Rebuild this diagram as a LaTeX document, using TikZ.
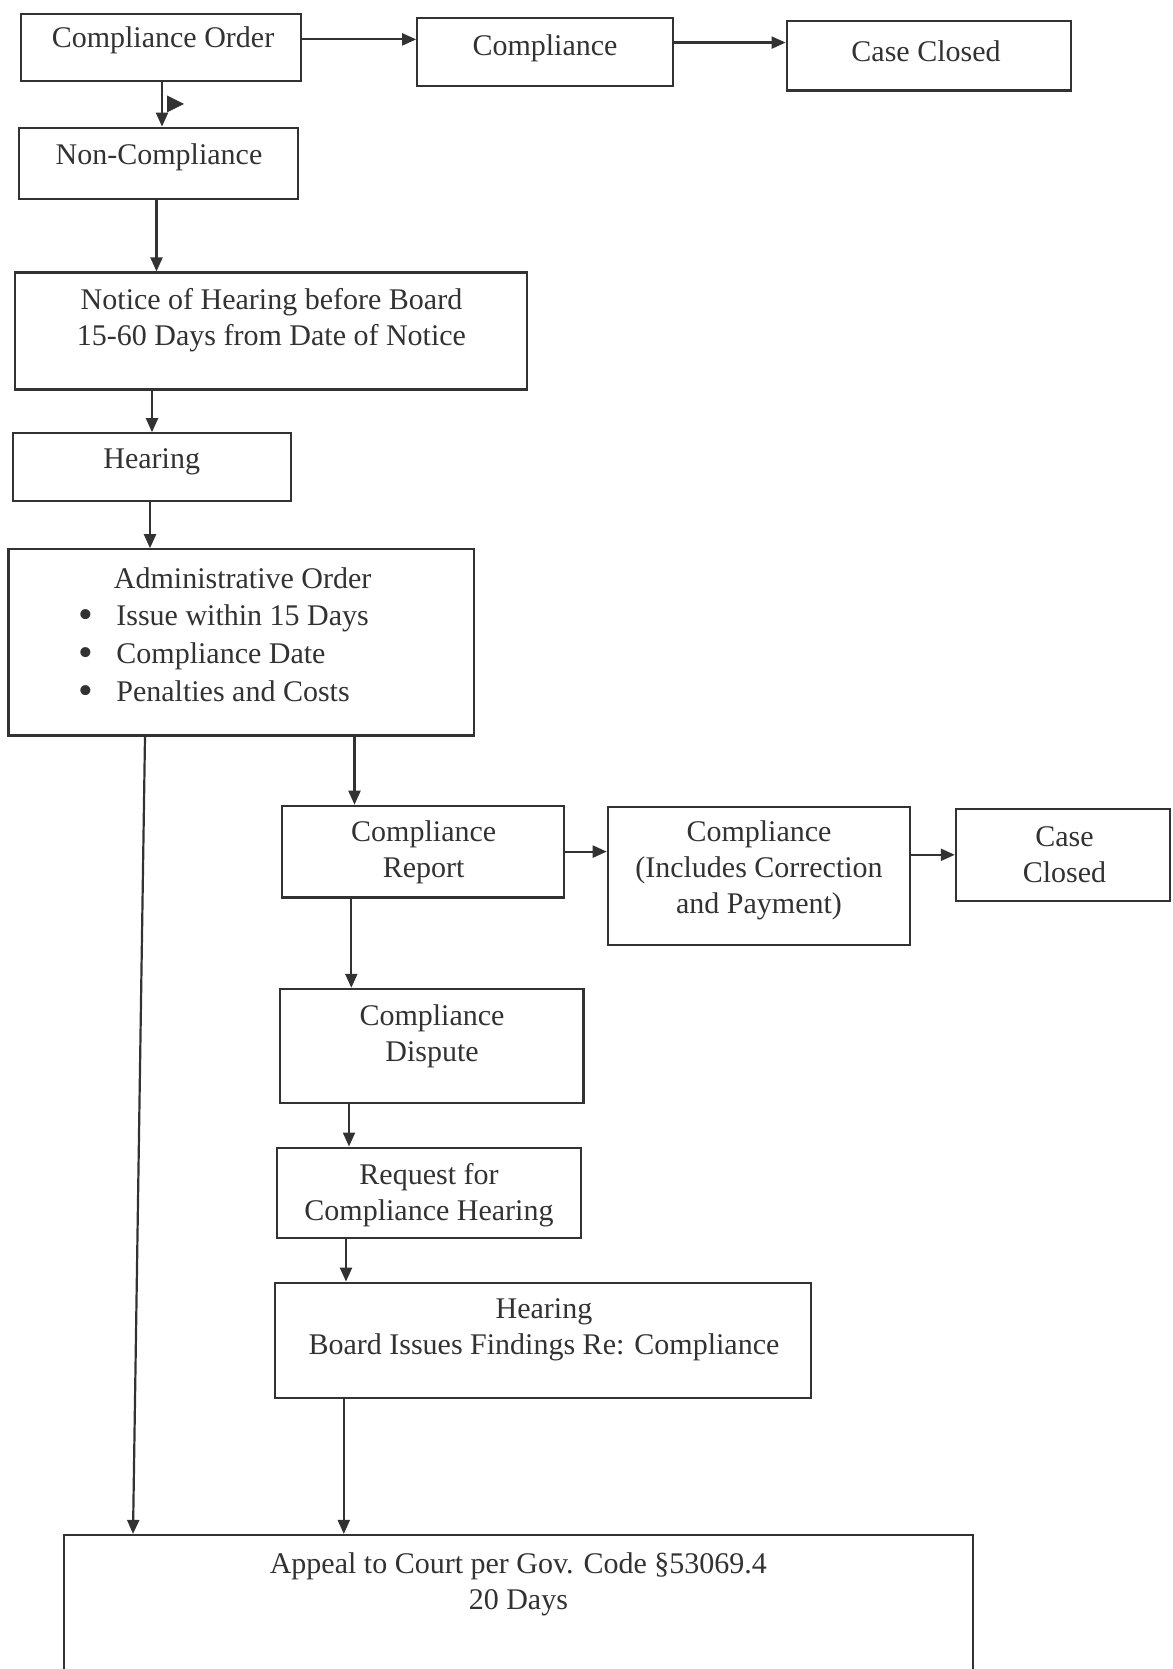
\documentclass[tikz,border=0pt]{standalone}
\usepackage{fontspec}
\setmainfont{Liberation Serif}
\usetikzlibrary{arrows.meta}
\definecolor{ink}{RGB}{50,50,50}
\newcommand{\bigbul}{\makebox[19pt][l]{\raisebox{-1.2pt}{\fontsize{21}{19}\selectfont\textbullet}}}
\tikzset{
  box/.style={draw=ink, line width=1.1pt, inner sep=0pt, rectangle},
  txt/.style={text=ink, align=center, inner sep=0pt, font=\fontsize{15}{18}\selectfont},
  arr/.style={draw=ink, line width=1.1pt, -{Triangle[length=7pt,width=6pt]}},
}
\begin{document}
\begin{tikzpicture}[x=0.5pt,y=-0.5pt]
\useasboundingbox (0,0) rectangle (1172,1669);
\clip (0,0) rectangle (1172,1669);
% boxes
\node[box, minimum width=140pt, minimum height=33.5pt] (co) at (161.3,47.4) {};
\node[box, minimum width=127.75pt, minimum height=34pt] (comp) at (545,52.2) {};
\node[box, minimum width=142.1pt, minimum height=34.6pt] (cc1) at (928.8,55.9) {};
\node[box, minimum width=139.5pt, minimum height=35.7pt] (nc) at (158.6,163.4) {};
\node[box, minimum width=256pt, minimum height=58.5pt] (notice) at (270.9,331) {};
\node[box, minimum width=138.9pt, minimum height=34pt] (hear) at (151.7,467.3) {};
\node[box, minimum width=232.6pt, minimum height=93.1pt] (admin) at (241.1,642.4) {};
\node[box, minimum width=141pt, minimum height=45.8pt] (cr) at (423.1,851.6) {};
\node[box, minimum width=151.2pt, minimum height=69.2pt] (ci) at (759,876.1) {};
\node[box, minimum width=107pt, minimum height=45.8pt] (cc2) at (1062.9,854.8) {};
\node[box, minimum width=151.7pt, minimum height=57pt] (cd) at (431.7,1045.9) {};
\node[box, minimum width=152.2pt, minimum height=45.2pt] (req) at (429,1192.8) {};
\node[box, minimum width=268.3pt, minimum height=57.5pt] (hb) at (542.9,1340.2) {};
\node[box, minimum width=454.5pt, minimum height=82.5pt] (appeal) at (518.4,1617.5) {};
% texts
\node[txt] (tco) at (163,40.5) {Compliance Order};
\node[txt] (tcomp) at (545,48) {Compliance};
\node[txt] (tcc1) at (926,51) {Case Closed};
\node[txt] (tnc) at (159,157.5) {Non-Compliance};
\node[txt] (tnotice) at (271.5,320.4) {Notice of Hearing before Board\\15-60 Days from Date of Notice};
\node[txt] (thear) at (151.7,462) {Hearing};
\node[txt] (tadmin) at (242.7,578) {Administrative Order};
\node[txt, align=left, anchor=west, font=\fontsize{15}{19}\selectfont] (tlist) at (78,654.5)
  {\bigbul Issue within 15 Days\\
   \bigbul Compliance Date\\
   \bigbul Penalties and Costs};
\node[txt] (tcr) at (423.7,852) {Compliance\\Report};
\node[txt] (tci) at (759,870.8) {Compliance\\(Includes Correction\\and Payment)};
\node[txt] (tcc2) at (1064.5,854.8) {Case\\Closed};
\node[txt] (tcd) at (432,1035.8) {Compliance\\Dispute};
\node[txt] (treq) at (429,1194.9) {Request for\\Compliance Hearing};
\node[txt] (thb) at (544,1329.6) {Hearing\\Board Issues Findings Re: Compliance};
\node[txt] (tappeal) at (518.4,1584) {Appeal to Court per Gov. Code §53069.4\\20 Days};
% connectors
\draw[arr] (co.east |- 0,39.4) -- (comp.west |- 0,39.4);
\draw[arr] (comp.east |- 0,42.6) -- (cc1.west |- 0,42.6);
\draw[arr] (co.south -| 162,0) -- (nc.north -| 162,0);
\fill[ink] (167,95.5) -- (167,112.5) -- (184,104) -- cycle;
\draw[arr] (nc.south -| 156.5,0) -- (notice.north -| 156.5,0);
\draw[arr] (notice.south -| 152,0) -- (hear.north -| 152,0);
\draw[arr] (hear.south -| 150,0) -- (admin.north -| 150,0);
\draw[arr] (admin.south -| 354.5,0) -- (cr.north -| 354.5,0);
\draw[arr] (admin.south -| 145,0) -- (appeal.north -| 133,0);
\draw[arr] (cr.east) -- (ci.west |- cr.east);
\draw[arr] (ci.east |- cc2.west) -- (cc2.west);
\draw[arr] (cr.south -| 351.3,0) -- (cd.north -| 351.3,0);
\draw[arr] (cd.south -| 349,0) -- (req.north -| 349,0);
\draw[arr] (req.south -| 346,0) -- (hb.north -| 346,0);
\draw[arr] (hb.south -| 343.8,0) -- (appeal.north -| 343.8,0);
\end{tikzpicture}
\end{document}
